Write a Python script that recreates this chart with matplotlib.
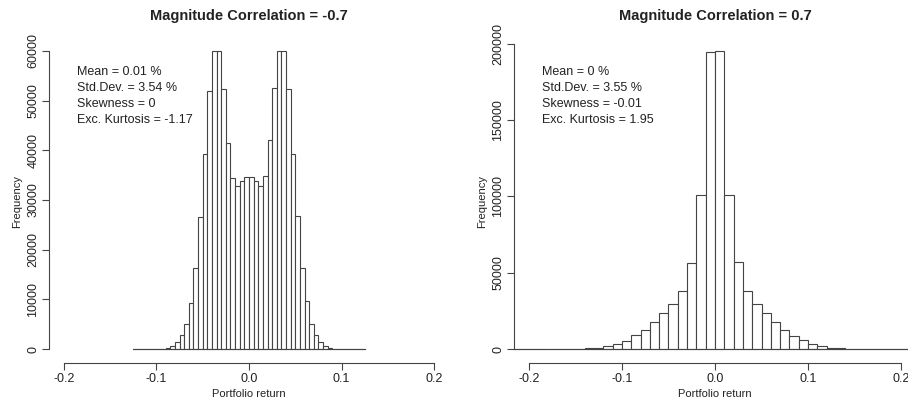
import numpy as np
import matplotlib

matplotlib.use("Agg")
import matplotlib.pyplot as plt  # noqa: E402

plt.rcParams["font.family"] = ["Liberation Sans", "DejaVu Sans"]

# left panel: correlation -0.7, bins of 0.005 from -0.125 to 0.125
left_start, left_width = -0.125, 0.005
left_counts = [
    0, 0, 0, 0, 0, 0,
    80, 250, 600, 1350, 2800, 5000, 9200, 16400, 26600, 39200,
    52000, 60000, 60000, 52300, 41400, 34500, 32900, 33900, 34700,
    34700, 33900, 32900, 34900, 42000, 52500, 60000, 60000, 52300,
    39200, 26800, 16400, 9700, 5000, 2800, 1350, 650, 300, 100,
    0, 0, 0, 0, 0, 0,
]
left_title = "Magnitude Correlation = -0.7"
left_stats = ["Mean = 0.01 %", "Std.Dev. = 3.54 %", "Skewness = 0",
              "Exc. Kurtosis = -1.17"]
left_yticks = [0, 10000, 20000, 30000, 40000, 50000, 60000]

# right panel: correlation 0.7, bins of 0.01 from -0.22 to 0.22
right_start, right_width = -0.22, 0.01
right_counts = [
    0, 0, 0, 0, 0, 0, 0,
    250, 500, 850, 2000, 3400, 5700, 9000, 12900, 17800, 23400,
    29300, 38200, 56700, 100900, 194300, 195100, 100900, 56800, 38300,
    29600, 23500, 17700, 12600, 8700, 5800, 3300, 1900, 900, 500, 250,
    0, 0, 0, 0, 0, 0, 0,
]
right_title = "Magnitude Correlation = 0.7"
right_stats = ["Mean = 0 %", "Std.Dev. = 3.55 %", "Skewness = -0.01",
               "Exc. Kurtosis = 1.95"]
right_yticks = [0, 50000, 100000, 150000, 200000]

xticks = [-0.2, -0.1, 0.0, 0.1, 0.2]
xtick_labels = ["-0.2", "-0.1", "0.0", "0.1", "0.2"]

W, H = 908, 404
TXT = "#222222"
LINE = "#444444"


def draw_panel(ax, start, width, counts, title, stats, yticks, ylim):
    counts = np.asarray(counts, dtype=float)
    lefts = start + width * np.arange(len(counts))
    ax.bar(lefts, counts, width=width, align="edge", facecolor="white",
           edgecolor=LINE, linewidth=0.8)
    ax.plot([lefts[0], lefts[-1] + width], [0, 0], color=LINE, lw=0.8)
    ax.set_xlim(-0.216, 0.216)
    ax.set_ylim(*ylim)
    for s in ("top", "right"):
        ax.spines[s].set_visible(False)
    for s in ("left", "bottom"):
        ax.spines[s].set_color(LINE)
        ax.spines[s].set_linewidth(0.8)
    ax.spines["bottom"].set_bounds(xticks[0], xticks[-1])
    ax.spines["left"].set_bounds(yticks[0], yticks[-1])
    ax.set_xticks(xticks, xtick_labels)
    ax.set_yticks(yticks, [str(v) for v in yticks])
    ax.tick_params(axis="both", length=5, width=0.8, color=LINE,
                   labelsize=9, labelcolor=TXT, pad=2)
    for lab in ax.get_yticklabels():
        lab.set_rotation(90)
        lab.set_va("center")
    ax.set_title(title, fontsize=10.5, fontweight="bold", color=TXT, pad=14)
    ax.set_xlabel("Portfolio return", fontsize=8, color=TXT, labelpad=3)
    ax.set_ylabel("Frequency", fontsize=8, color=TXT, labelpad=4)
    for i, line in enumerate(stats):
        ax.text(28 / 400, (363 - 72 - 16 * i) / 324, line, transform=ax.transAxes,
                fontsize=9, color=TXT, ha="left", va="center")


fig = plt.figure(figsize=(W / 100, H / 100), dpi=100)
ax1 = fig.add_axes([49 / W, 1 - 363 / H, 400 / W, 324 / H])
ax2 = fig.add_axes([514 / W, 1 - 363 / H, 402 / W, 324 / H])

draw_panel(ax1, left_start, left_width, left_counts, left_title, left_stats,
           left_yticks, (-2800, 62400))
draw_panel(ax2, right_start, right_width, right_counts, right_title, right_stats,
           right_yticks, (-9000, 203000))

fig.savefig("out.png", dpi=100)
plt.close(fig)
